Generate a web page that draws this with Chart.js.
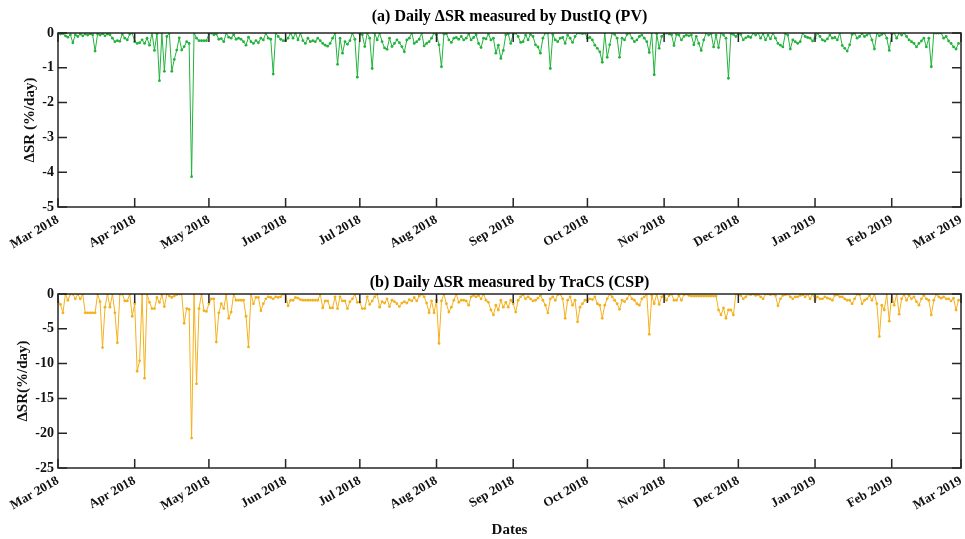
<!DOCTYPE html>
<html>
<head>
<meta charset="utf-8">
<title>Daily ΔSR</title>
<script src="https://cdn.jsdelivr.net/npm/chart.js@4.4.1/dist/chart.umd.min.js"></script>
<style>
    body { margin: 0; background: #fff; }
    canvas { display: block; }
</style>
</head>
<body>
<canvas id="dustiq-chart" width="965" height="261"></canvas>
<canvas id="tracs-chart" width="965" height="278"></canvas>
<script>
// day offsets of the month ticks, counted from 1 Mar 2018
const monthTicks = [0, 31, 61, 92, 122, 153, 184, 214, 245, 275, 306, 337, 365];
const tickLabels = ["Mar 2018", "Apr 2018", "May 2018", "Jun 2018", "Jul 2018", "Aug 2018",
    "Sep 2018", "Oct 2018", "Nov 2018", "Dec 2018", "Jan 2019", "Feb 2019", "Mar 2019"];

// daily ΔSR (%/day), DustIQ (PV), one line per month
const dustiqValues = [
    0, -0.03, -0.02, -0.08, -0.12, -0.05, -0.28, -0.05, -0.1, -0.03, -0.08, -0.03, -0.06, -0.02, -0.05, -0.52, -0.03, -0.06, -0.02, -0.08, -0.03, -0.05, -0.15, -0.25, -0.22, -0.24, -0.03, -0.15, -0.2, -0.03, 0,
    -0.25, -0.3, -0.28, -0.2, -0.3, -0.15, -0.35, 0, -0.5, -0.02, -1.37, 0, -1.1, -0.1, 0, -1.1, -0.76, -0.49, -0.14, -0.49, -0.39, -0.25, -0.3, -4.13, 0, -0.15, -0.22, -0.22, -0.22, -0.22,
    -0.02, 0, -0.05, -0.03, -0.18, -0.16, -0.25, 0, -0.12, -0.15, -0.05, -0.18, -0.15, -0.18, -0.25, -0.35, -0.12, -0.25, -0.3, -0.22, -0.28, -0.15, -0.2, 0, -0.15, -0.18, -1.18, 0, -0.1, -0.18, -0.22,
    -0.22, -0.15, 0, -0.15, 0, -0.2, 0, -0.22, -0.3, -0.15, -0.25, -0.22, -0.25, -0.15, -0.22, -0.3, -0.35, -0.38, -0.3, -0.15, 0, -0.9, -0.15, -0.58, -0.25, -0.32, -0.22, 0, -0.18, -1.27,
    -0.02, -0.05, -0.39, 0, -0.15, -1.02, 0, -0.2, 0, -0.25, -0.43, -0.47, -0.15, -0.39, -0.3, -0.2, -0.28, -0.39, -0.54, -0.2, -0.15, 0, -0.3, -0.25, -0.18, 0, -0.37, -0.3, -0.25, -0.15, 0,
    -0.05, -0.34, -0.97, -0.03, -0.02, -0.2, -0.27, -0.15, -0.13, -0.18, -0.1, -0.2, -0.15, -0.03, -0.2, -0.13, -0.05, -0.3, -0.42, -0.15, -0.17, -0.03, -0.2, -0.15, -0.58, -0.35, -0.73, -0.5, -0.05, -0.03, -0.3,
    -0.03, 0, -0.1, -0.27, -0.25, -0.06, -0.2, -0.04, -0.1, -0.34, -0.4, -0.58, -0.15, 0, 0, -1.02, -0.04, -0.2, -0.25, -0.15, -0.13, -0.3, -0.06, -0.15, -0.27, -0.1, 0, 0, -0.02, 0,
    -0.15, -0.13, -0.2, -0.35, -0.44, -0.54, -0.84, 0, -0.7, -0.34, 0, -0.04, -0.15, -0.7, -0.15, -0.2, -0.04, 0, -0.15, -0.25, -0.2, -0.1, -0.06, -0.15, -0.25, -0.56, 0, -1.2, -0.02, -0.44, -0.1,
    -0.02, 0, -0.03, -0.05, -0.36, -0.04, -0.06, -0.2, -0.1, -0.06, -0.08, -0.06, -0.34, -0.1, -0.3, -0.5, -0.2, 0, -0.06, -0.02, -0.4, -0.06, -0.42, 0, -0.06, -0.15, -1.3, -0.02, -0.04, -0.1,
    0, -0.04, -0.2, -0.14, -0.1, -0.13, 0, -0.06, 0, -0.15, -0.02, -0.2, -0.06, -0.17, 0, -0.15, -0.3, -0.35, -0.4, -0.02, -0.06, -0.46, -0.2, -0.25, -0.3, -0.25, 0, -0.1, -0.13, -0.15, -0.23,
    -0.15, 0, -0.1, -0.2, -0.23, -0.17, -0.06, -0.15, -0.13, -0.2, 0, -0.36, -0.44, -0.52, -0.34, -0.04, 0, -0.15, -0.1, -0.02, -0.1, -0.06, 0, -0.2, -0.46, 0, -0.08, -0.04, 0, -0.15, -0.5,
    -0.02, 0, -0.15, 0, -0.06, 0, -0.1, -0.2, -0.25, -0.3, -0.4, -0.3, -0.23, -0.15, -0.4, -0.15, -0.97, 0, 0, 0, 0, -0.15, -0.1, -0.23, -0.3, -0.4, -0.46, -0.3
];

// daily ΔSR (%/day), TraCS (CSP), one line per month
const tracsValues = [
    -1.0, -1.5, -2.7, 0, -0.9, 0, 0, -0.7, 0, -0.7, 0, -2.7, -2.7, -2.7, -2.7, -2.7, 0, -1.1, -7.7, -1.9, 0, -1.9, 0, -2.7, -7.0, 0, 0, -1.0, -1.0, 0, -3.2,
    -1.4, -11.1, -9.6, 0, -12.1, 0, -1.2, -2.1, -2.1, -0.5, -1.2, -0.1, -1.8, 0, -0.3, -0.5, -0.3, -0.1, 0, 0, -4.2, -2.1, -2.2, -20.7, 0, -12.9, -2.1, 0, -2.4, -2.5,
    -1.4, -0.7, -0.7, -6.9, -2.7, -1.4, -2.1, 0, -3.5, -2.6, 0, -0.9, -0.9, -0.9, -0.9, -3.2, -7.6, 0, -1.4, -0.5, -0.5, -2.4, -1.4, -0.7, -0.4, -0.5, -0.7, -0.4, -0.5, -0.4, 0,
    0, -1.7, -0.9, -0.9, -0.5, -0.6, -0.8, -0.9, -0.9, -0.9, -0.9, -0.9, -0.9, -0.9, 0, -2.0, -1.0, -1.0, -2.0, -2.0, -0.4, -2.1, -0.4, -1.0, -1.0, -2.1, -1.1, -0.7, 0, -1.2,
    -1.2, -2.1, -2.1, -0.4, -1.5, -1.0, -0.4, 0, -1.9, -1.1, -1.3, -0.7, -1.8, -0.9, -1.1, -1.4, -1.8, -1.3, -1.1, -1.3, -0.8, -1.0, -0.5, -1.0, -0.3, 0, -0.4, -1.3, -2.7, -1.0, -2.7,
    -0.9, -7.1, -1.0, 0, -1.4, -2.6, -1.9, -0.9, 0, -1.2, -0.9, -0.9, -1.0, -1.6, -0.4, -0.2, -0.4, -0.2, -0.7, 0, -0.9, -1.2, -2.3, -3.0, -1.6, -2.3, -0.9, -1.9, -1.2, -1.9, -0.9,
    -1.4, -2.6, -0.9, -0.4, -0.1, -0.7, -0.4, -0.7, -1.0, -0.9, -0.6, -0.2, -0.9, -1.6, -2.7, -0.7, -0.4, -0.9, -0.1, 0, -0.7, -3.5, -0.9, -0.4, -1.6, -0.9, -4.0, -1.9, -1.4, -0.9,
    -0.9, -0.7, -0.8, -0.4, -1.4, -1.6, -3.5, -1.6, -0.7, 0, -0.4, -0.9, -1.4, -2.2, -0.9, -1.1, -0.7, 0, -0.7, -0.9, -1.4, -1.6, -0.7, -0.4, 0, -5.8, -0.2, -1.4, 0, -1.5, -0.4,
    -0.2, -0.9, -0.2, 0, -0.9, -0.9, -0.2, -0.9, -0.1, 0, -0.2, -0.3, -0.3, -0.3, -0.3, -0.3, -0.3, -0.3, -0.3, -0.3, -0.3, -0.3, -2.3, -3.0, -2.0, -3.5, -2.3, -2.3, -3.0, 0,
    0, -0.2, -0.7, -0.4, 0, -0.1, 0, -0.2, -0.1, -0.4, -0.7, 0, 0, -0.1, 0, -0.2, -1.7, -0.7, -0.2, -0.1, 0, -0.4, -0.7, -0.4, -0.4, -0.2, -0.1, -0.4, 0, -0.7, 0,
    -0.9, -0.4, -0.7, -0.7, -0.4, -0.6, -0.7, -0.9, -0.2, -0.1, -0.4, -0.4, -0.7, -0.9, -0.9, -1.4, -0.7, 0, -0.1, -1.4, -0.9, -0.7, -0.2, -0.9, 0, -1.4, -6.1, -1.6, -2.3, 0, -3.9,
    0, -1.6, 0, -2.9, -0.7, -0.1, -0.9, -0.2, -0.7, -0.4, -1.1, -1.6, -0.7, -0.2, -0.7, -0.9, -3.0, -0.9, 0, -0.4, -0.6, -0.4, -0.7, -0.7, -1.0, -0.6, -2.3, -0.9
];

const serif = "'Liberation Serif', 'Times New Roman', serif";
const axisColor = "#262626";

// MATLAB style box with inward ticks on all four sides
const boxTicks = {
    id: "boxTicks",
    afterDraw(chart) {
        const { ctx, chartArea: area, scales: { x, y } } = chart;
        const len = 9;
        ctx.save();
        ctx.strokeStyle = axisColor;
        ctx.lineWidth = 1.5;
        ctx.beginPath();
        x.ticks.forEach(tick => {
            const px = x.getPixelForValue(tick.value);
            ctx.moveTo(px, area.bottom);
            ctx.lineTo(px, area.bottom - len);
            ctx.moveTo(px, area.top);
            ctx.lineTo(px, area.top + len);
        });
        y.ticks.forEach(tick => {
            const py = y.getPixelForValue(tick.value);
            ctx.moveTo(area.left, py);
            ctx.lineTo(area.left + len, py);
            ctx.moveTo(area.right, py);
            ctx.lineTo(area.right - len, py);
        });
        ctx.stroke();
        ctx.strokeRect(area.left, area.top, area.right - area.left, area.bottom - area.top);
        ctx.restore();
    }
};

function dailyChart(canvasId, settings) {
    const points = settings.values.map((v, day) => ({ x: day, y: v }));
    const ctx = document.querySelector(canvasId);
    const config = {
        type: "line",
        data: {
            datasets: [{
                data: points,
                borderColor: settings.color,
                backgroundColor: settings.color,
                borderWidth: 1,
                pointRadius: 1.4,
                pointBorderWidth: 0,
                tension: 0
            }]
        },
        options: {
            responsive: false,
            animation: false,
            layout: { padding: { left: 0, right: 2, top: 0, bottom: 0 } },
            plugins: {
                legend: { display: false },
                tooltip: { enabled: false },
                title: {
                    display: true,
                    fullSize: false,
                    text: settings.title,
                    color: "#000",
                    font: { family: serif, size: 16, weight: "bold", lineHeight: 1.15 },
                    padding: settings.titlePadding
                }
            },
            scales: {
                x: {
                    type: "linear",
                    min: 0,
                    max: 365,
                    grid: { display: false, drawTicks: false },
                    border: { display: false },
                    afterBuildTicks: scale => {
                        scale.ticks = monthTicks.map(v => ({ value: v }));
                    },
                    afterFit: scale => {
                        scale.height = settings.xAxisHeight;
                        scale.paddingLeft = 0;
                        scale.paddingRight = 0;
                    },
                    ticks: {
                        autoSkip: false,
                        minRotation: 30,
                        maxRotation: 30,
                        padding: 5,
                        color: "#111",
                        font: { family: serif, size: 13, weight: "bold" },
                        callback: (value, index) => tickLabels[index]
                    },
                    title: {
                        display: settings.showDates,
                        text: "Dates",
                        color: "#111",
                        font: { family: serif, size: 15, weight: "bold", lineHeight: 1.2 },
                        padding: { top: 0, bottom: 0 }
                    }
                },
                y: {
                    min: settings.yMin,
                    max: 0,
                    grid: { display: false, drawTicks: false },
                    border: { display: false },
                    afterFit: scale => {
                        scale.width = 58;
                    },
                    ticks: {
                        stepSize: settings.yStep,
                        padding: 4,
                        color: "#111",
                        font: { family: serif, size: 14, weight: "bold" },
                        callback: value => String(value)
                    },
                    title: {
                        display: true,
                        text: settings.yTitle,
                        color: "#111",
                        font: { family: serif, size: 15, weight: "bold", lineHeight: 1.2 },
                        padding: { top: settings.yTitleOffset, bottom: 0 }
                    }
                }
            }
        },
        plugins: [boxTicks]
    };
    return new Chart(ctx, config);
}

dailyChart("#dustiq-chart", {
    values: dustiqValues,
    color: "#22b33c",
    title: "(a) Daily ΔSR measured by DustIQ (PV)",
    titlePadding: { top: 8, bottom: 6.6 },
    yTitle: "ΔSR (%/day)",
    yTitleOffset: 21,
    yMin: -5,
    yStep: 1,
    xAxisHeight: 54,
    showDates: false
});

dailyChart("#tracs-chart", {
    values: tracsValues,
    color: "#f4b11e",
    title: "(b) Daily ΔSR measured by TraCS (CSP)",
    titlePadding: { top: 13, bottom: 1.6 },
    yTitle: "ΔSR(%/day)",
    yTitleOffset: 14,
    yMin: -25,
    yStep: 5,
    xAxisHeight: 71,
    showDates: true
});
</script>
</body>
</html>
